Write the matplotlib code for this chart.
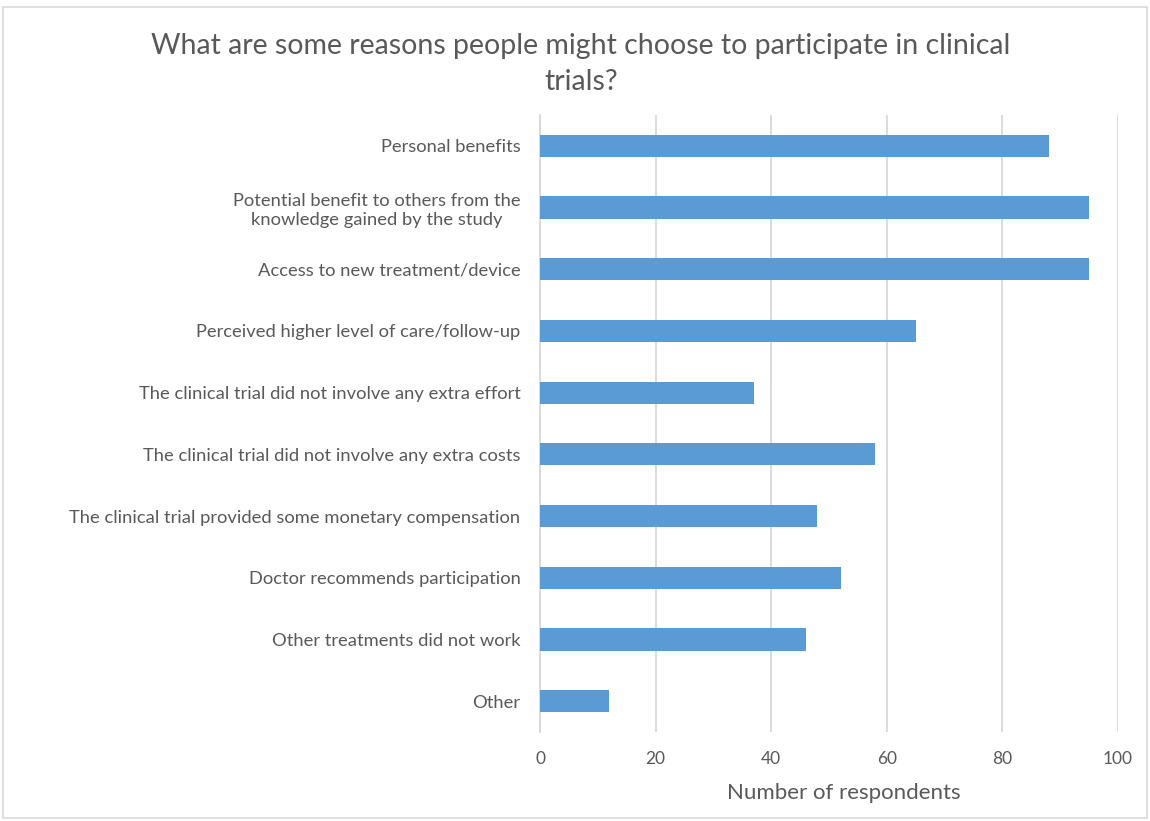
import matplotlib
matplotlib.use("Agg")
import matplotlib.pyplot as plt
from matplotlib.patches import Rectangle

plt.rcParams["font.family"] = ["Lato", "DejaVu Sans"]

# survey answers, top to bottom
reasons = [
    "Personal benefits",
    "Potential benefit to others from the\nknowledge gained by the study",
    "Access to new treatment/device",
    "Perceived higher level of care/follow-up",
    "The clinical trial did not involve any extra effort",
    "The clinical trial did not involve any extra costs",
    "The clinical trial provided some monetary compensation",
    "Doctor recommends participation",
    "Other treatments did not work",
    "Other",
]
respondents = [88, 95, 95, 65, 37, 58, 48, 52, 46, 12]
x_ticks = [0, 20, 40, 60, 80, 100]

text_col = "#595959"
grid_col = "#d9d9d9"
bar_col = "#5b9bd5"

fig = plt.figure(figsize=(11.5, 8.21), dpi=100)
ax = fig.add_axes([0.4696, 0.1084, 0.5026, 0.7515])

pos = list(range(len(reasons)))
ax.barh(pos, respondents, height=0.36, color=bar_col, zorder=3)
ax.set_ylim(len(reasons) - 0.5, -0.5)
ax.set_xlim(0, 100)
ax.set_xticks(x_ticks)
ax.set_yticks(pos)
ax.set_yticklabels(reasons, fontsize=13.2, color=text_col, ha="right",
                   multialignment="center")

ax.grid(axis="x", color=grid_col, linewidth=1.3, zorder=0)
for side in ["top", "right", "bottom"]:
    ax.spines[side].set_visible(False)
ax.spines["left"].set_color(grid_col)
ax.spines["left"].set_linewidth(1.3)
ax.tick_params(axis="both", length=0, colors=text_col)
ax.tick_params(axis="y", pad=14)
ax.tick_params(axis="x", labelsize=12.5, pad=14)

ax.set_xlabel("Number of respondents", fontsize=16, color=text_col)
ax.xaxis.set_label_coords(0.526, -0.082)

fig.text(0.505, 0.922, "What are some reasons people might choose to participate in clinical\ntrials?",
         ha="center", va="center", fontsize=20.5, color=text_col, linespacing=1.5)

fig.patches.append(Rectangle((0.003, 0.004), 0.994, 0.988, transform=fig.transFigure,
                             fill=False, edgecolor=grid_col, linewidth=1.2))

fig.savefig("out.png", dpi=100)
